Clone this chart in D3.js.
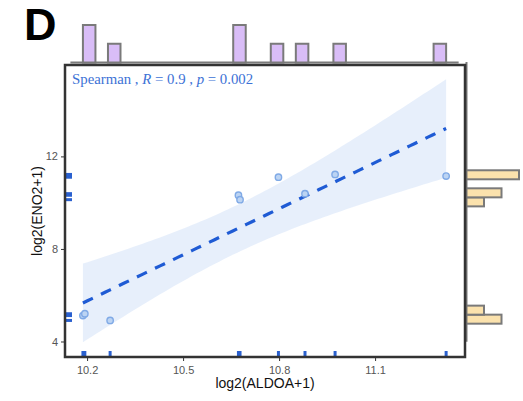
<!DOCTYPE html>
<html>
<head>
<meta charset="utf-8">
<script src="https://cdn.jsdelivr.net/npm/d3@7"></script>
<style>
  body { margin: 0; background: #fff; }
  svg { display: block; }
</style>
</head>
<body>
<svg id="chart" width="523" height="401"></svg>
<script>
// values
const aldoa = [10.187, 10.193, 10.272, 10.673, 10.678, 10.798, 10.881, 10.975, 11.322];
const eno2  = [5.12, 5.20, 4.91, 10.32, 10.13, 11.10, 10.39, 11.22, 11.15];
const xTicks = [10.2, 10.5, 10.8, 11.1];
const yTicks = [4, 8, 12];
const statLabel = ["Spearman , ", "R", " = 0.9 , ", "p", " = 0.002"];

const panel = {left: 65, right: 465, top: 65, bottom: 357};

const svg = d3.select("#chart");

const x = d3.scaleLinear().domain([10.131, 11.381]).range([panel.left, panel.right]);
const y = d3.scaleLinear().domain([3.33, 15.95]).range([panel.bottom, panel.top]);

const points = aldoa.map((v, i) => ({x: v, y: eno2[i]}));

// linear fit + 95% CI (like geom_smooth(method = "lm"))
const n = points.length;
const mx = d3.mean(aldoa), my = d3.mean(eno2);
const sxx = d3.sum(aldoa, v => (v - mx) ** 2);
const sxy = d3.sum(points, d => (d.x - mx) * (d.y - my));
const slope = sxy / sxx, icpt = my - slope * mx;
const sse = d3.sum(points, d => (d.y - (icpt + slope * d.x)) ** 2);
const s = Math.sqrt(sse / (n - 2));
const tcrit = 2.365; // t(0.975, df = 7)
const xmin = d3.min(aldoa), xmax = d3.max(aldoa);
const fit = d3.range(0, 81).map(i => {
  const xv = xmin + (xmax - xmin) * i / 80;
  const yv = icpt + slope * xv;
  const se = s * Math.sqrt(1 / n + (xv - mx) ** 2 / sxx);
  return {x: xv, y: yv, lo: yv - tcrit * se, hi: yv + tcrit * se};
});

svg.append("defs").append("clipPath").attr("id", "clip")
  .append("rect")
  .attr("x", panel.left).attr("y", panel.top)
  .attr("width", panel.right - panel.left).attr("height", panel.bottom - panel.top);

const plot = svg.append("g").attr("clip-path", "url(#clip)");

plot.append("path") // confidence band
  .datum(fit)
  .attr("d", d3.area().x(d => x(d.x)).y0(d => y(d.lo)).y1(d => y(d.hi)))
  .attr("fill", "#3d7be0")
  .attr("fill-opacity", 0.12);

plot.append("path") // regression line
  .datum(fit)
  .attr("d", d3.line().x(d => x(d.x)).y(d => y(d.y)))
  .attr("fill", "none")
  .attr("stroke", "#1f5bd4")
  .attr("stroke-width", 3.2)
  .attr("stroke-dasharray", "11,9");

plot.selectAll("circle.pt")
  .data(points)
  .enter()
  .append("circle")
  .attr("class", "pt")
  .attr("cx", d => x(d.x))
  .attr("cy", d => y(d.y))
  .attr("r", 3.2)
  .attr("fill", "#bcd4f3")
  .attr("stroke", "#80aae6")
  .attr("stroke-width", 1.4);

// rugs
plot.selectAll("line.rugx")
  .data(points)
  .enter()
  .append("line")
  .attr("x1", d => x(d.x)).attr("x2", d => x(d.x))
  .attr("y1", panel.bottom).attr("y2", panel.bottom - 6)
  .attr("stroke", "#2a60cf").attr("stroke-width", 3);

plot.selectAll("line.rugy")
  .data(points)
  .enter()
  .append("line")
  .attr("y1", d => y(d.y)).attr("y2", d => y(d.y))
  .attr("x1", panel.left).attr("x2", panel.left + 7)
  .attr("stroke", "#2a60cf").attr("stroke-width", 3);

// stat label
const lab = svg.append("text")
  .attr("x", 72).attr("y", 84)
  .attr("font-family", "'Liberation Serif', 'DejaVu Serif', serif")
  .attr("font-size", 14.8)
  .attr("fill", "#3c72d6");
lab.selectAll("tspan")
  .data(statLabel)
  .enter()
  .append("tspan")
  .attr("font-style", (d, i) => (i === 1 || i === 3) ? "italic" : "normal")
  .text(d => d);

// axes
const xAxis = svg.append("g")
  .attr("transform", `translate(0,${panel.bottom + 1})`)
  .call(d3.axisBottom(x).tickValues(xTicks).tickSize(3).tickFormat(d3.format(".1f")));
const yAxis = svg.append("g")
  .attr("transform", `translate(${panel.left - 1},0)`)
  .call(d3.axisLeft(y).tickValues(yTicks).tickSize(3).tickFormat(d3.format("d")));
[xAxis, yAxis].forEach(g => {
  g.select(".domain").remove();
  g.selectAll(".tick line").attr("stroke", "#333");
  g.selectAll(".tick text")
    .attr("fill", "#555")
    .attr("font-family", "'Liberation Sans', Arial, sans-serif")
    .attr("font-size", 11);
});
xAxis.selectAll(".tick text").attr("dy", "0.95em");

svg.append("text")
  .attr("x", (panel.left + panel.right) / 2).attr("y", 388)
  .attr("text-anchor", "middle")
  .attr("font-family", "'Liberation Sans', Arial, sans-serif")
  .attr("font-size", 14)
  .attr("fill", "#111")
  .text("log2(ALDOA+1)");

svg.append("text")
  .attr("transform", `translate(42,${(panel.top + panel.bottom) / 2}) rotate(-90)`)
  .attr("text-anchor", "middle")
  .attr("font-family", "'Liberation Sans', Arial, sans-serif")
  .attr("font-size", 14)
  .attr("fill", "#111")
  .text("log2(ENO2+1)");

// marginal histograms
const xw = (xmax - xmin) / 29;
const xThr = d3.range(-3, 33).map(k => xmin + k * xw);
const xBins = d3.bin()
  .domain([xThr[0], xThr[xThr.length - 1]])
  .thresholds(xThr)(aldoa.map(v => Math.min(v, xmax - 1e-9)));

const yw = 0.39, y0 = 3.99;
const yThr = d3.range(0, 32).map(k => y0 + k * yw);
const yBins = d3.bin()
  .domain([yThr[0], yThr[yThr.length - 1]])
  .thresholds(yThr)(eno2);

const topBase = 62.5, rightBase = 466.5;
const cTop = d3.scaleLinear().domain([0, 2]).range([topBase, 25]);
const cRight = d3.scaleLinear().domain([0, 3]).range([rightBase, 519]);

const xVis = xBins.filter(b => x(b.x0) >= panel.left - 1 && x(b.x1) <= panel.right + 1);
const yVis = yBins.filter(b => y(b.x1) >= panel.top - 4 && y(b.x0) <= panel.bottom);

// empty bins collapse into a grey baseline
svg.append("line")
  .attr("x1", x(xVis[0].x0)).attr("x2", x(xVis[xVis.length - 1].x1))
  .attr("y1", topBase).attr("y2", topBase)
  .attr("stroke", "#7a7a7a").attr("stroke-width", 2);
svg.append("line")
  .attr("y1", y(yVis[0].x0)).attr("y2", y(yVis[yVis.length - 1].x1))
  .attr("x1", rightBase).attr("x2", rightBase)
  .attr("stroke", "#7a7a7a").attr("stroke-width", 2);

svg.append("g")
  .selectAll("rect")
  .data(xVis.filter(b => b.length > 0))
  .enter()
  .append("rect")
  .attr("x", d => x(d.x0))
  .attr("width", d => x(d.x1) - x(d.x0))
  .attr("y", d => cTop(d.length))
  .attr("height", d => topBase - cTop(d.length))
  .attr("fill", "#d9bdf7")
  .attr("stroke", "#7a7a7a")
  .attr("stroke-width", 2);

svg.append("g")
  .selectAll("rect")
  .data(yVis.filter(b => b.length > 0))
  .enter()
  .append("rect")
  .attr("y", d => y(d.x1))
  .attr("height", d => y(d.x0) - y(d.x1))
  .attr("x", rightBase)
  .attr("width", d => cRight(d.length) - rightBase)
  .attr("fill", "#fbe2ad")
  .attr("stroke", "#7a7a7a")
  .attr("stroke-width", 2);

// panel border
svg.append("rect")
  .attr("x", panel.left).attr("y", panel.top)
  .attr("width", panel.right - panel.left).attr("height", panel.bottom - panel.top)
  .attr("fill", "none")
  .attr("stroke", "#333")
  .attr("stroke-width", 2.5);

// panel tag
svg.append("text")
  .attr("x", 24).attr("y", 39.5)
  .attr("font-family", "'Liberation Sans', Arial, sans-serif")
  .attr("font-weight", "bold")
  .attr("font-size", 45)
  .attr("fill", "#000")
  .text("D");
</script>
</body>
</html>
